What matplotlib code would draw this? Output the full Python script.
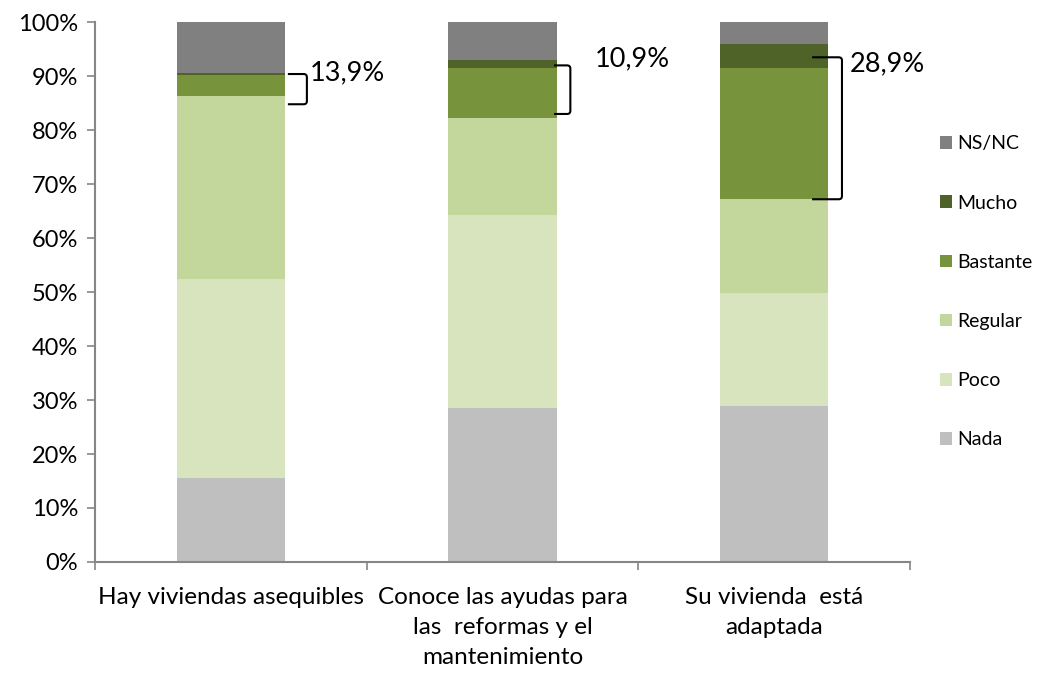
import matplotlib
matplotlib.use("Agg")
import matplotlib.pyplot as plt
import numpy as np
from matplotlib.path import Path
from matplotlib.patches import PathPatch

plt.rcParams['font.family'] = ['Lato', 'DejaVu Sans']

categories = ["Hay viviendas asequibles",
              "Conoce las ayudas para\nlas  reformas y el\nmantenimiento",
              "Su vivienda  está\nadaptada"]
series_names = ["Nada", "Poco", "Regular", "Bastante", "Mucho", "NS/NC"]
nada = [15.5, 28.5, 28.9]
poco = [37.0, 35.8, 20.9]
regular = [33.9, 17.9, 17.4]
bastante = [3.9, 9.4, 24.4]
mucho = [0.3, 1.4, 4.3]
nsnc = [9.4, 7.0, 4.1]
bracket_labels = ["13,9%", "10,9%", "28,9%"]

colors = ["#BFBFBF", "#D7E4BD", "#C3D69B", "#77933C", "#4F6228", "#808080"]
series = [nada, poco, regular, bastante, mucho, nsnc]

fig = plt.figure(figsize=(10.42, 6.73), dpi=100)
ax = fig.add_axes([0.0912, 0.165, 0.782, 0.802])

x = np.arange(len(categories))
bottom = np.zeros(len(categories))
handles = []
for name, vals, c in zip(series_names, series, colors):
    h = ax.bar(x, vals, width=0.4, bottom=bottom, color=c, label=name,
               edgecolor='none', zorder=2)
    handles.append(h)
    bottom += np.array(vals)

ax.set_xlim(-0.5, 2.5)
ax.set_ylim(0, 100)
ax.set_yticks(np.arange(0, 101, 10))
ax.set_yticklabels([f"{v}%" for v in range(0, 101, 10)], fontsize=17)
ax.set_xticks([-0.5, 0.5, 1.5, 2.5])
ax.set_xticklabels([])
ax.set_xticks(x, minor=True)
ax.set_xticklabels(categories, minor=True, fontsize=17.5, linespacing=1.52)
ax.tick_params(axis='x', which='minor', length=0, pad=18)
ax.tick_params(axis='x', which='major', length=6, color='#868686', width=1.2)
ax.tick_params(axis='y', length=6, color='#868686', width=1.2, pad=6)
for s in ['top', 'right']:
    ax.spines[s].set_visible(False)
for s in ['left', 'bottom']:
    ax.spines[s].set_color('#868686')
    ax.spines[s].set_linewidth(1.5)

# brackets: (x_start, x_vertical, y_top, y_bottom, text_x, text_y)
brackets = [
    (0.21, 0.28, 90.4, 84.8, 0.29, 90.6),
    (1.19, 1.25, 92.0, 83.0, 1.34, 93.3),
    (2.14, 2.25, 93.5, 67.2, 2.28, 92.2),
]
for (xs, xv, yt, yb, tx, ty), lab in zip(brackets, bracket_labels):
    r = 0.6
    dx = 0.012
    verts = [(xs, yt), (xv - dx, yt), (xv, yt), (xv, yt - r),
             (xv, yb + r), (xv, yb), (xv - dx, yb), (xs, yb)]
    codes = [Path.MOVETO, Path.LINETO, Path.CURVE3, Path.CURVE3,
             Path.LINETO, Path.CURVE3, Path.CURVE3, Path.LINETO]
    ax.add_patch(PathPatch(Path(verts, codes), fill=False, lw=1.5,
                           edgecolor='black', zorder=3, clip_on=False))
    ax.text(tx, ty, lab, fontsize=19.5, ha='left', va='center', zorder=4)

leg = fig.legend(handles[::-1], series_names[::-1], loc='upper left',
                 bbox_to_anchor=(0.887, 0.822), frameon=False, fontsize=14,
                 handlelength=0.62, handleheight=0.62, labelspacing=2.17,
                 handletextpad=0.3, borderpad=0.3)

fig.savefig("out.png", dpi=100)
